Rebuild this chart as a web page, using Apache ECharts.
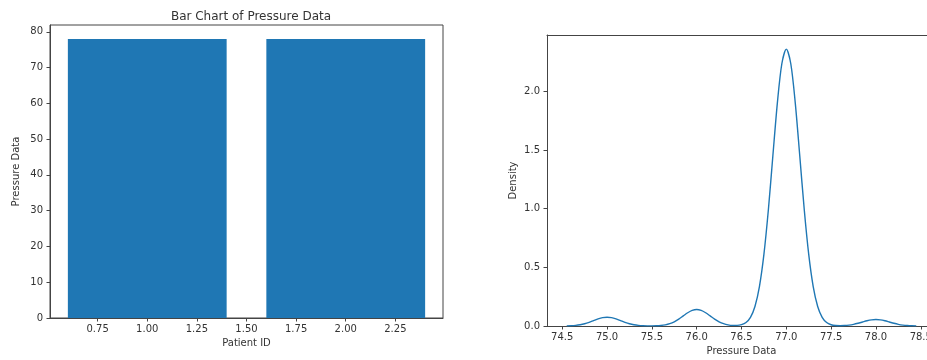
<!DOCTYPE html>
<html>
<head>
<meta charset="utf-8">
<script src="https://cdn.jsdelivr.net/npm/echarts@6/dist/echarts.min.js"></script>
<style>
html,body{margin:0;padding:0;background:#fff;}
#chart{width:927px;height:360px;}
</style>
</head>
<body>
<div id="chart"></div>
<script>
// ---- Data ----
const patientIds = [1, 2];
const pressureValues = [78, 78];
const barXTicks = [0.75, 1.00, 1.25, 1.50, 1.75, 2.00, 2.25];
const barYTicks = [0, 10, 20, 30, 40, 50, 60, 70, 80];

const kdeX = [74.55,74.60,74.65,74.70,74.75,74.80,74.85,74.90,74.95,75.00,
  75.05,75.10,75.15,75.20,75.25,75.30,75.35,75.40,75.45,75.50,
  75.55,75.60,75.65,75.70,75.75,75.80,75.85,75.90,75.95,76.00,
  76.05,76.10,76.15,76.20,76.25,76.30,76.35,76.40,76.45,76.50,
  76.55,76.60,76.65,76.70,76.75,76.80,76.85,76.90,76.95,77.00,
  77.05,77.10,77.15,77.20,77.25,77.30,77.35,77.40,77.45,77.50,
  77.55,77.60,77.65,77.70,77.75,77.80,77.85,77.90,77.95,78.00,
  78.05,78.10,78.15,78.20,78.25,78.30,78.35,78.40,78.45];
const kdeDensity = [0.0009,0.0024,0.0053,0.0107,0.0194,0.0316,0.0461,0.0604,0.0710,0.0750,
  0.0710,0.0604,0.0461,0.0316,0.0194,0.0107,0.0053,0.0024,0.0011,0.0010,
  0.0019,0.0044,0.0099,0.0200,0.0362,0.0589,0.0860,0.1127,0.1326,0.1400,
  0.1326,0.1127,0.0860,0.0589,0.0362,0.0201,0.0101,0.0054,0.0051,0.0112,
  0.0297,0.0740,0.1666,0.3365,0.6103,0.9931,1.4505,1.8998,2.2349,2.3600,
  2.2349,1.8998,1.4505,0.9931,0.6103,0.3365,0.1666,0.0740,0.0296,0.0108,
  0.0041,0.0027,0.0041,0.0079,0.0142,0.0231,0.0338,0.0443,0.0521,0.0550,
  0.0521,0.0443,0.0338,0.0231,0.0142,0.0079,0.0039,0.0017,0.0007];
const kdeXTicks = [74.5, 75.0, 75.5, 76.0, 76.5, 77.0, 77.5, 78.0, 78.5];
const kdeYTicks = [0.0, 0.5, 1.0, 1.5, 2.0];

// ---- Styling ----
const FONT = 'DejaVu Sans';
const TXT = '#333';
const FRAME = '#444';
const BLUE = '#1f77b4';
const BAR_WIDTH = 0.8;

const barData = patientIds.map((id, i) => [id, pressureValues[i]]);
const kdeData = kdeX.map((x, i) => [x, kdeDensity[i]]);

function axisCommon(ticks, fmt, margin) {
  return {
    axisLine: { show: true, lineStyle: { color: FRAME, width: 1 } },
    axisTick: { show: true, inside: false, length: 3.5, customValues: ticks, lineStyle: { color: FRAME, width: 1 } },
    axisLabel: { show: true, customValues: ticks, formatter: fmt, color: TXT, fontFamily: FONT, fontSize: 10, margin: margin },
    splitLine: { show: false },
    nameTextStyle: { color: TXT, fontFamily: FONT, fontSize: 10 }
  };
}

const chart = echarts.init(document.getElementById('chart'), null, { renderer: 'canvas' });
chart.setOption({
  animation: false,
  backgroundColor: '#fff',
  title: {
    text: 'Bar Chart of Pressure Data',
    left: 246, top: 6, textAlign: 'center',
    textStyle: { color: TXT, fontFamily: FONT, fontSize: 12, fontWeight: 'normal' }
  },
  grid: [
    { left: 50, top: 25, right: 484, bottom: 42, show: true, borderColor: FRAME, borderWidth: 1,
      containLabel: false, outerBoundsMode: 'none' },
    { left: 547, top: 35, right: -9, bottom: 34, show: false, containLabel: false, outerBoundsMode: 'none' }
  ],
  xAxis: [
    Object.assign(axisCommon(barXTicks, v => v.toFixed(2), 6), {
      type: 'value', gridIndex: 0, min: 0.51, max: 2.49,
      name: 'Patient ID', nameLocation: 'middle', nameGap: 20
    }),
    Object.assign(axisCommon(kdeXTicks, v => v.toFixed(1), 6), {
      type: 'value', gridIndex: 1, min: 74.33, max: 78.67,
      name: 'Pressure Data', nameLocation: 'middle', nameGap: 20
    }),
    {
      type: 'value', gridIndex: 1, position: 'top', min: 74.33, max: 78.67,
      axisLine: { show: true, lineStyle: { color: FRAME, width: 1 } },
      axisTick: { show: false }, axisLabel: { show: false }, splitLine: { show: false }
    }
  ],
  yAxis: [
    Object.assign(axisCommon(barYTicks, v => String(v), 7), {
      type: 'value', gridIndex: 0, min: 0, max: 81.9,
      name: 'Pressure Data', nameLocation: 'middle', nameGap: 29, nameRotate: 90
    }),
    Object.assign(axisCommon(kdeYTicks, v => v.toFixed(1), 7), {
      type: 'value', gridIndex: 1, min: 0, max: 2.48,
      name: 'Density', nameLocation: 'middle', nameGap: 29, nameRotate: 90
    })
  ],
  series: [
    {
      type: 'custom',
      xAxisIndex: 0, yAxisIndex: 0,
      data: barData,
      renderItem: function (params, api) {
        const x = api.value(0), v = api.value(1);
        const p0 = api.coord([x - BAR_WIDTH / 2, v]);
        const p1 = api.coord([x + BAR_WIDTH / 2, 0]);
        return {
          type: 'rect',
          shape: { x: p0[0], y: p0[1], width: p1[0] - p0[0], height: p1[1] - p0[1] },
          style: { fill: BLUE }
        };
      },
      encode: { x: 0, y: 1 }
    },
    {
      type: 'line',
      xAxisIndex: 1, yAxisIndex: 1,
      data: kdeData,
      showSymbol: false,
      smooth: 0.3,
      lineStyle: { color: BLUE, width: 1.4 },
      z: 3
    }
  ]
});
</script>
</body>
</html>
